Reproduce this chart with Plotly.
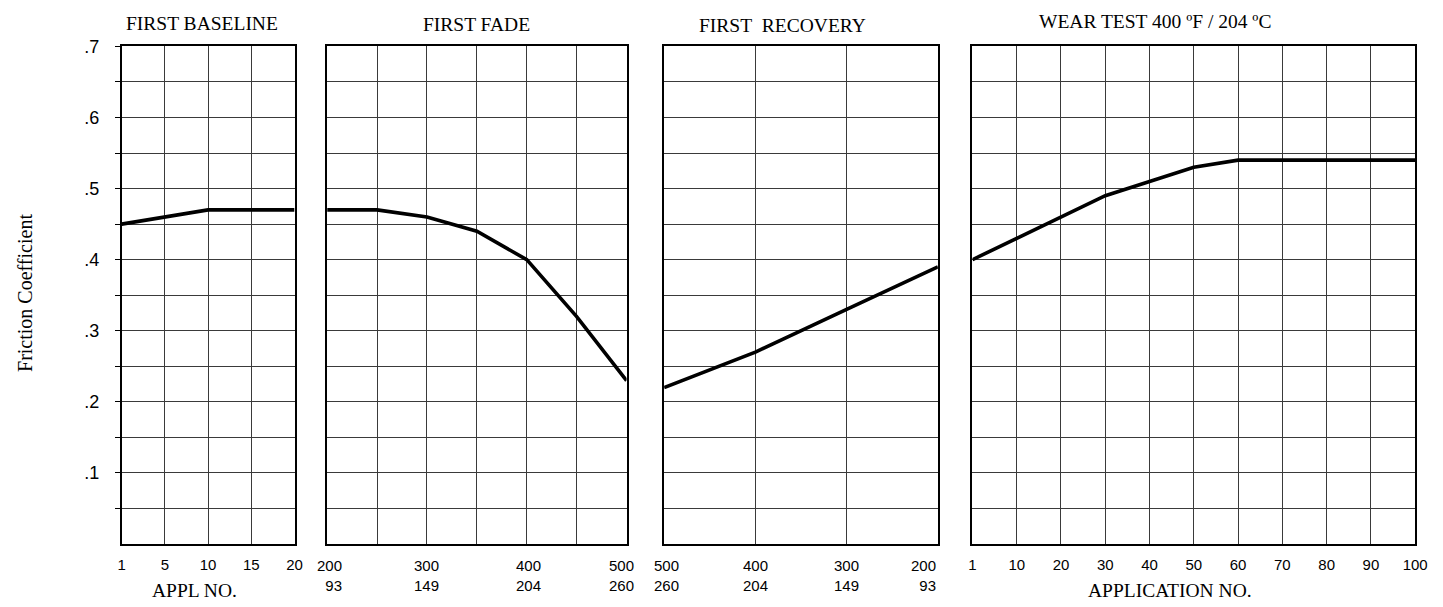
import plotly.graph_objects as go

# ---- data ----
baseline_appl = ["1", "5", "10", "15", "20"]
baseline_mu = [0.45, 0.46, 0.47, 0.47, 0.47]

fade_temp_f = [200, 250, 300, 350, 400, 450, 500]
fade_mu = [0.47, 0.47, 0.46, 0.44, 0.40, 0.32, 0.23]
fade_tick_f = [200, 300, 400, 500]
fade_tick_c = [93, 149, 204, 260]

recovery_temp_f = [500, 400, 300, 200]
recovery_mu = [0.22, 0.27, 0.33, 0.39]
recovery_tick_f = [500, 400, 300, 200]
recovery_tick_c = [260, 204, 149, 93]

wear_appl = ["1", "10", "20", "30", "40", "50", "60", "70", "80", "90", "100"]
wear_mu = [0.40, 0.43, 0.46, 0.49, 0.51, 0.53, 0.54, 0.54, 0.54, 0.54, 0.54]

y_tick_vals = [0.05, 0.10, 0.15, 0.20, 0.25, 0.30, 0.35, 0.40, 0.45, 0.50, 0.55, 0.60, 0.65, 0.70]
y_tick_text = ["", ".1", "", ".2", "", ".3", "", ".4", "", ".5", "", ".6", "", ".7"]

titles = ["FIRST BASELINE", "FIRST FADE", "FIRST&nbsp;&nbsp;RECOVERY", "WEAR TEST 400 ºF / 204 ºC"]

# ---- styling ----
W, H = 1443, 607
SERIF = "Liberation Serif, Times New Roman, serif"
SANS = "Liberation Sans, Arial, sans-serif"
GRID = "#3a3a3a"
px_domains = [(119, 294), (327, 630), (668, 945), (980, 1428)]
ydom = [(H - 543) / H, (H - 37) / H]

fig = go.Figure()
line_style = dict(color="black", width=3.6)
fig.add_trace(go.Scatter(x=baseline_appl, y=baseline_mu, mode="lines", line=line_style, xaxis="x", yaxis="y"))
fig.add_trace(go.Scatter(x=fade_temp_f, y=fade_mu, mode="lines", line=line_style, xaxis="x2", yaxis="y2"))
fig.add_trace(go.Scatter(x=recovery_temp_f, y=recovery_mu, mode="lines", line=line_style, xaxis="x3", yaxis="y3"))
fig.add_trace(go.Scatter(x=wear_appl, y=wear_mu, mode="lines", line=line_style, xaxis="x4", yaxis="y4"))

def xdom(i):
    a, b = px_domains[i]
    return [a / W, b / W]

common_x = dict(showline=True, linecolor="black", linewidth=1.5, mirror=True,
                showgrid=True, gridcolor=GRID, gridwidth=1, zeroline=False,
                ticks="", tickfont=dict(family=SANS, size=15, color="black"),
                fixedrange=True)
common_y = dict(range=[0, 0.7], tickmode="array", tickvals=y_tick_vals,
                showline=True, linecolor="black", linewidth=1.5, mirror=True,
                showgrid=True, gridcolor=GRID, gridwidth=1, zeroline=False,
                domain=ydom, fixedrange=True)

fig.update_layout(
    xaxis=dict(common_x, domain=xdom(0), type="category", range=[0, len(baseline_appl) - 1],
               anchor="y", ticklabelstandoff=6),
    xaxis2=dict(common_x, domain=xdom(1), range=[fade_temp_f[0], fade_temp_f[-1]],
                tickmode="array", tickvals=fade_temp_f, showticklabels=False, anchor="y2"),
    xaxis3=dict(common_x, domain=xdom(2), range=[recovery_temp_f[0], recovery_temp_f[-1]],
                tickmode="array", tickvals=recovery_temp_f, showticklabels=False, anchor="y3"),
    xaxis4=dict(common_x, domain=xdom(3), type="category", range=[0, len(wear_appl) - 1],
                anchor="y4", ticklabelstandoff=6),
    yaxis=dict(common_y, anchor="x", ticktext=y_tick_text, ticks="outside", ticklen=5,
               tickcolor="black", tickwidth=1.2, tickfont=dict(family=SANS, size=18, color="black"),
               ticklabelstandoff=12),
    yaxis2=dict(common_y, anchor="x2", showticklabels=False),
    yaxis3=dict(common_y, anchor="x3", showticklabels=False),
    yaxis4=dict(common_y, anchor="x4", showticklabels=False),
    width=W, height=H, margin=dict(l=0, r=0, t=0, b=0),
    paper_bgcolor="white", plot_bgcolor="white", showlegend=False,
)

ann = []
title_x = [200, 478, 788, 1165]
title_y = [14, 15, 16, 12]
for t, x, y in zip(titles, title_x, title_y):
    ann.append(dict(text=t, x=x / W, y=1 - y / H, xref="paper", yref="paper", showarrow=False,
                    xanchor="center", yanchor="middle", font=dict(family=SERIF, size=19.5, color="black")))

def temp_labels(ticks_f, ticks_c, xref, shifts):
    for f, c, s in zip(ticks_f, ticks_c, shifts):
        ann.append(dict(text=f"{f}<br>{c}", x=f, xref=xref, y=1 - 575 / H, yref="paper",
                        showarrow=False, xanchor="center", yanchor="middle", align="right",
                        xshift=s, font=dict(family=SANS, size=15, color="black")))

temp_labels(fade_tick_f, fade_tick_c, "x2", [2, 0, 2, -5])
temp_labels(recovery_tick_f, recovery_tick_c, "x3", [2, 0, 0, -14])

ann.append(dict(text="APPL NO.", x=193 / W, y=1 - 590 / H, xref="paper", yref="paper", showarrow=False,
                xanchor="center", yanchor="middle", font=dict(family=SERIF, size=19.5, color="black")))
ann.append(dict(text="APPLICATION NO.", x=1180 / W, y=1 - 590 / H, xref="paper", yref="paper",
                showarrow=False, xanchor="center", yanchor="middle",
                font=dict(family=SERIF, size=19.5, color="black")))
ann.append(dict(text="Friction Coefficient", x=22 / W, y=1 - 288 / H, xref="paper", yref="paper",
                showarrow=False, textangle=-90, xanchor="center", yanchor="middle",
                font=dict(family=SERIF, size=20, color="black")))
fig.update_layout(annotations=ann)

fig.write_html("out.html", config={"displayModeBar": False},
               post_script="document.body.style.margin='0';")
